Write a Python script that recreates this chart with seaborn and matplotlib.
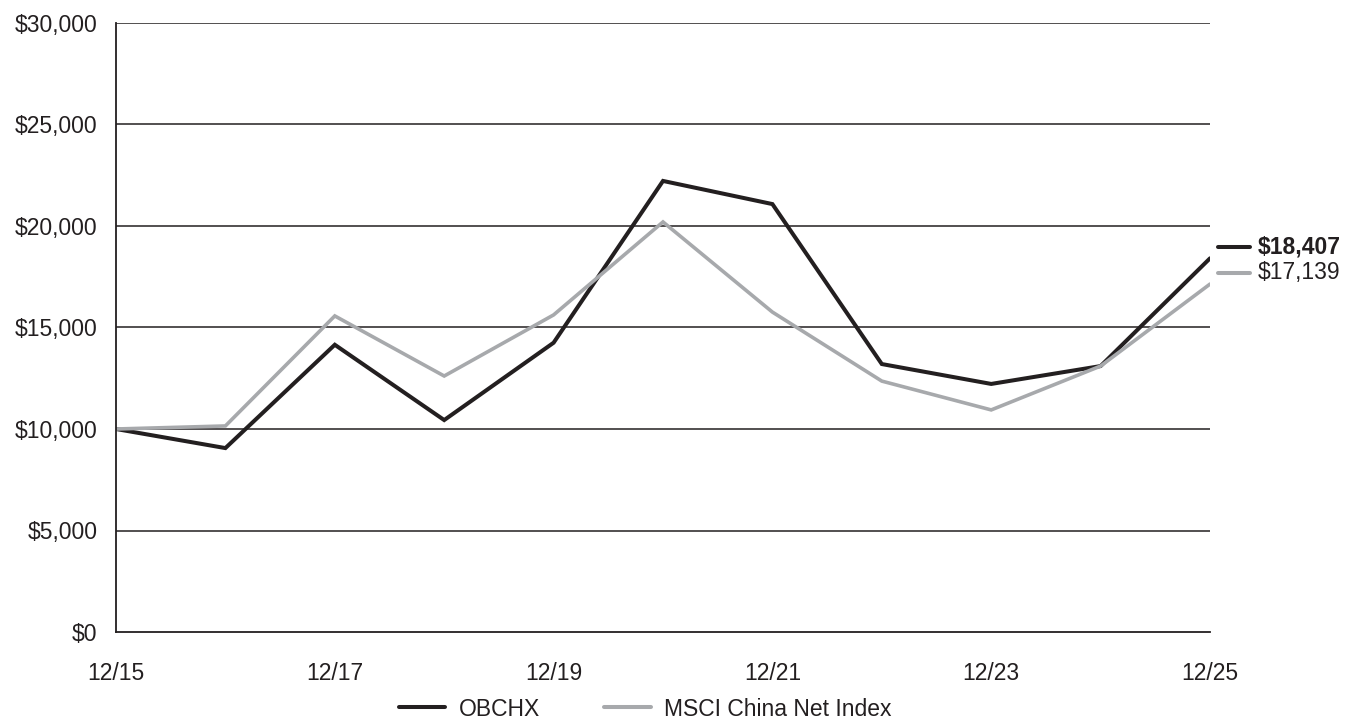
import pandas as pd
import matplotlib.pyplot as plt
import seaborn as sns

# data (growth of $10,000)
years = ['12/15', '12/16', '12/17', '12/18', '12/19', '12/20',
         '12/21', '12/22', '12/23', '12/24', '12/25']
obchx = [10000, 9060, 14150, 10440, 14250, 22220, 21080, 13200, 12220, 13100, 18407]
msci = [10000, 10150, 15570, 12610, 15620, 20200, 15760, 12360, 10940, 13100, 17139]
series_names = ['OBCHX', 'MSCI China Net Index']
colors = {'OBCHX': '#231f20', 'MSCI China Net Index': '#a7a9ac'}

df = pd.DataFrame({
    'idx': list(range(len(years))) * 2,
    'value': obchx + msci,
    'series': [series_names[0]] * len(years) + [series_names[1]] * len(years),
})

sns.set_style('white')
plt.rcParams['font.family'] = ['Liberation Sans', 'DejaVu Sans']
fs = 16.5

fig = plt.figure(figsize=(13.49, 7.19), dpi=100)
ax = fig.add_axes([116 / 1349, 1 - 632 / 719, (1210 - 116) / 1349, (632 - 23) / 719])

sns.lineplot(data=df, x='idx', y='value', hue='series', palette=colors,
             ax=ax, legend=False, linewidth=2.9)
for line, w in zip(ax.get_lines(), [2.9, 2.6]):
    line.set_linewidth(w)
    line.set_solid_joinstyle('miter')

ax.set_xlim(0, len(years) - 1)
ax.set_ylim(0, 30000)
ax.set_yticks(range(0, 30001, 5000))
ax.set_yticklabels([f'${v:,}' for v in range(0, 30001, 5000)])
ax.set_xticks(range(0, len(years), 2))
ax.set_xticklabels(years[::2])
ax.set_xlabel('')
ax.set_ylabel('')

for y in range(5000, 30001, 5000):
    ax.axhline(y, color='#231f20', linewidth=1.1, zorder=0)

for s in ['top', 'right']:
    ax.spines[s].set_visible(False)
for s in ['left', 'bottom']:
    ax.spines[s].set_color('#231f20')
    ax.spines[s].set_linewidth(1.3)

ax.tick_params(axis='x', direction='out', length=6.5, width=1.2, color='#231f20',
               labelsize=fs, pad=15, labelcolor='#231f20')
ax.tick_params(axis='y', direction='out', length=2, width=1.1, color='#231f20',
               labelsize=fs, pad=11.5, labelcolor='#231f20')

# end-of-line value labels
fig.add_artist(plt.Line2D([1218 / 1349, 1250 / 1349], [1 - 247 / 719] * 2,
                          color=colors['OBCHX'], linewidth=2.9))
fig.add_artist(plt.Line2D([1218 / 1349, 1250 / 1349], [1 - 273 / 719] * 2,
                          color=colors['MSCI China Net Index'], linewidth=2.9))
fig.text(1258 / 1349, 1 - 247 / 719, f'${obchx[-1]:,}', fontsize=fs,
         fontweight='bold', va='center', color='#231f20')
fig.text(1258 / 1349, 1 - 273 / 719, f'${msci[-1]:,}', fontsize=fs,
         va='center', color='#231f20')

# legend at the bottom
handles = [plt.Line2D([], [], color=colors[n], linewidth=2.9) for n in series_names]
fig.legend(handles, series_names, loc='center', bbox_to_anchor=(645 / 1349, 1 - 709 / 719),
           ncol=2, frameon=False, fontsize=fs, handlelength=2.05,
           columnspacing=2.8, handletextpad=0.57, labelcolor='#231f20',
           borderpad=0, borderaxespad=0)

fig.savefig('out.png', dpi=100)
